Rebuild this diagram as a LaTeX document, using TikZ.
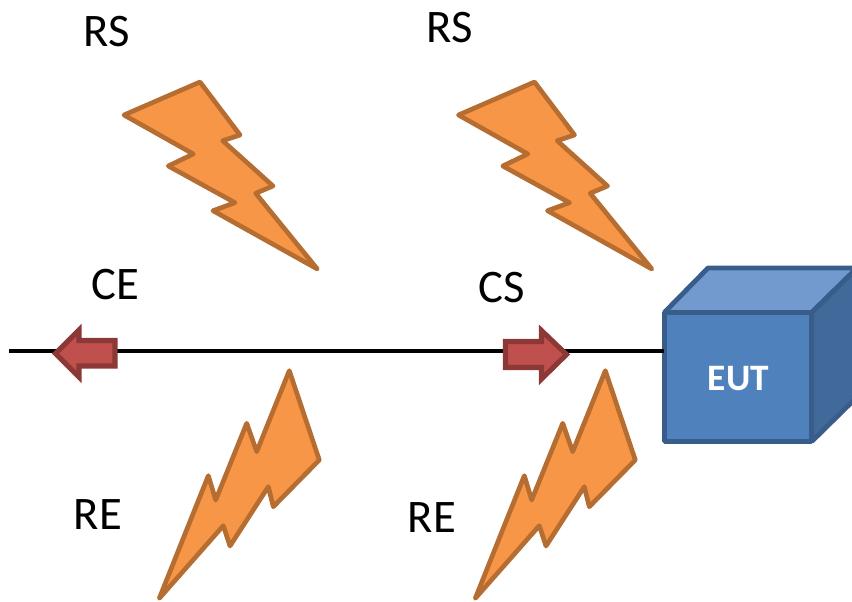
\documentclass[tikz,border=0pt]{standalone}
\usepackage{fontspec}
\setmainfont{Carlito}
\definecolor{boltfill}{HTML}{F79646}
\definecolor{boltline}{HTML}{B66D31}
\definecolor{arrfill}{HTML}{C0504D}
\definecolor{arrline}{HTML}{8C3836}
\definecolor{cubefront}{HTML}{4F81BD}
\definecolor{cubetop}{HTML}{729ACE}
\definecolor{cubeside}{HTML}{416A9B}
\definecolor{cubeline}{HTML}{385D8A}
\tikzset{
  bolt/.style={draw=boltline,fill=boltfill,line width=3.5pt,line join=round},
  redarrow/.style={draw=arrline,fill=arrfill,line width=3.8pt,line join=miter},
  cubeface/.style={draw=cubeline,line width=3.6pt,line join=bevel},
  label/.style={font=\fontsize{35}{40}\selectfont,text=black,inner sep=0pt},
  wire/.style={draw=black,line width=2.3pt},
}
\begin{document}
\begin{tikzpicture}[x=0.75pt,y=-0.75pt]
\useasboundingbox (0,0) rectangle (852,602);
\clip (0,0) rectangle (852,602);
\fill[white] (0,0) rectangle (852,602);
% cube
\node[cubeface,fill=cubefront,minimum width=147.5*0.75pt,minimum height=129*0.75pt,outer sep=0pt,inner sep=0pt] (eut) at (738,377) {};
\node[text=white,font=\fontsize{28}{32}\selectfont\bfseries,inner sep=0pt] (eutlabel) at (738.5,379) {EUT};
\path[cubeface,fill=cubetop] (eut.north west) -- (708,268) -- (857,268) -- (eut.north east) -- cycle;
\path[cubeface,fill=cubeside] (eut.north east) -- (857,268) -- (857,397) -- (eut.south east) -- cycle;
% line
\coordinate (wirestart) at (9,351);
\draw[wire] (wirestart) -- (wirestart -| eut.west);
% arrows
\path[redarrow] (55.5,353.5) -- (79,330) -- (79,340.5) -- (115,340.5) -- (115,366) -- (79,366) -- (79,377) -- cycle;
\path[redarrow] (566.5,354.5) -- (541.5,330.5) -- (541.5,341.5) -- (505.5,341.5) -- (505.5,367.5) -- (541.5,367.5) -- (541.5,379) -- cycle;
% bolts
\foreach \dx in {0,334.5}{
  \path[bolt,shift={(\dx*0.75pt,0)}] (200,82) -- (240,135) -- (222.7,140.7) -- (273,186) -- (255.7,193.3) -- (317.3,269) -- (213,210.7) -- (235,202.7) -- (168.3,166) -- (193.3,154) -- (124,115) -- cycle;
}
\foreach \dx in {0,316}{
  \path[bolt,shift={(\dx*0.75pt,0)}] (289.3,370.7) -- (319.3,460) -- (273.3,506.7) -- (268.3,486.7) -- (230,546) -- (223.3,525.7) -- (159.3,598.3) -- (208.3,475.7) -- (215.7,500) -- (246.7,423.3) -- (256.7,451.7) -- cycle;
}
% labels
\node[label] (rs1) at (107,32) {RS};
\node[label] (rs2) at (450,28) {RS};
\node[label] (ce) at (115,285) {CE};
\node[label] (cs) at (502,288) {CS};
\node[label] (re1) at (98,515) {RE};
\node[label] (re2) at (432,518) {RE};
\end{tikzpicture}
\end{document}
